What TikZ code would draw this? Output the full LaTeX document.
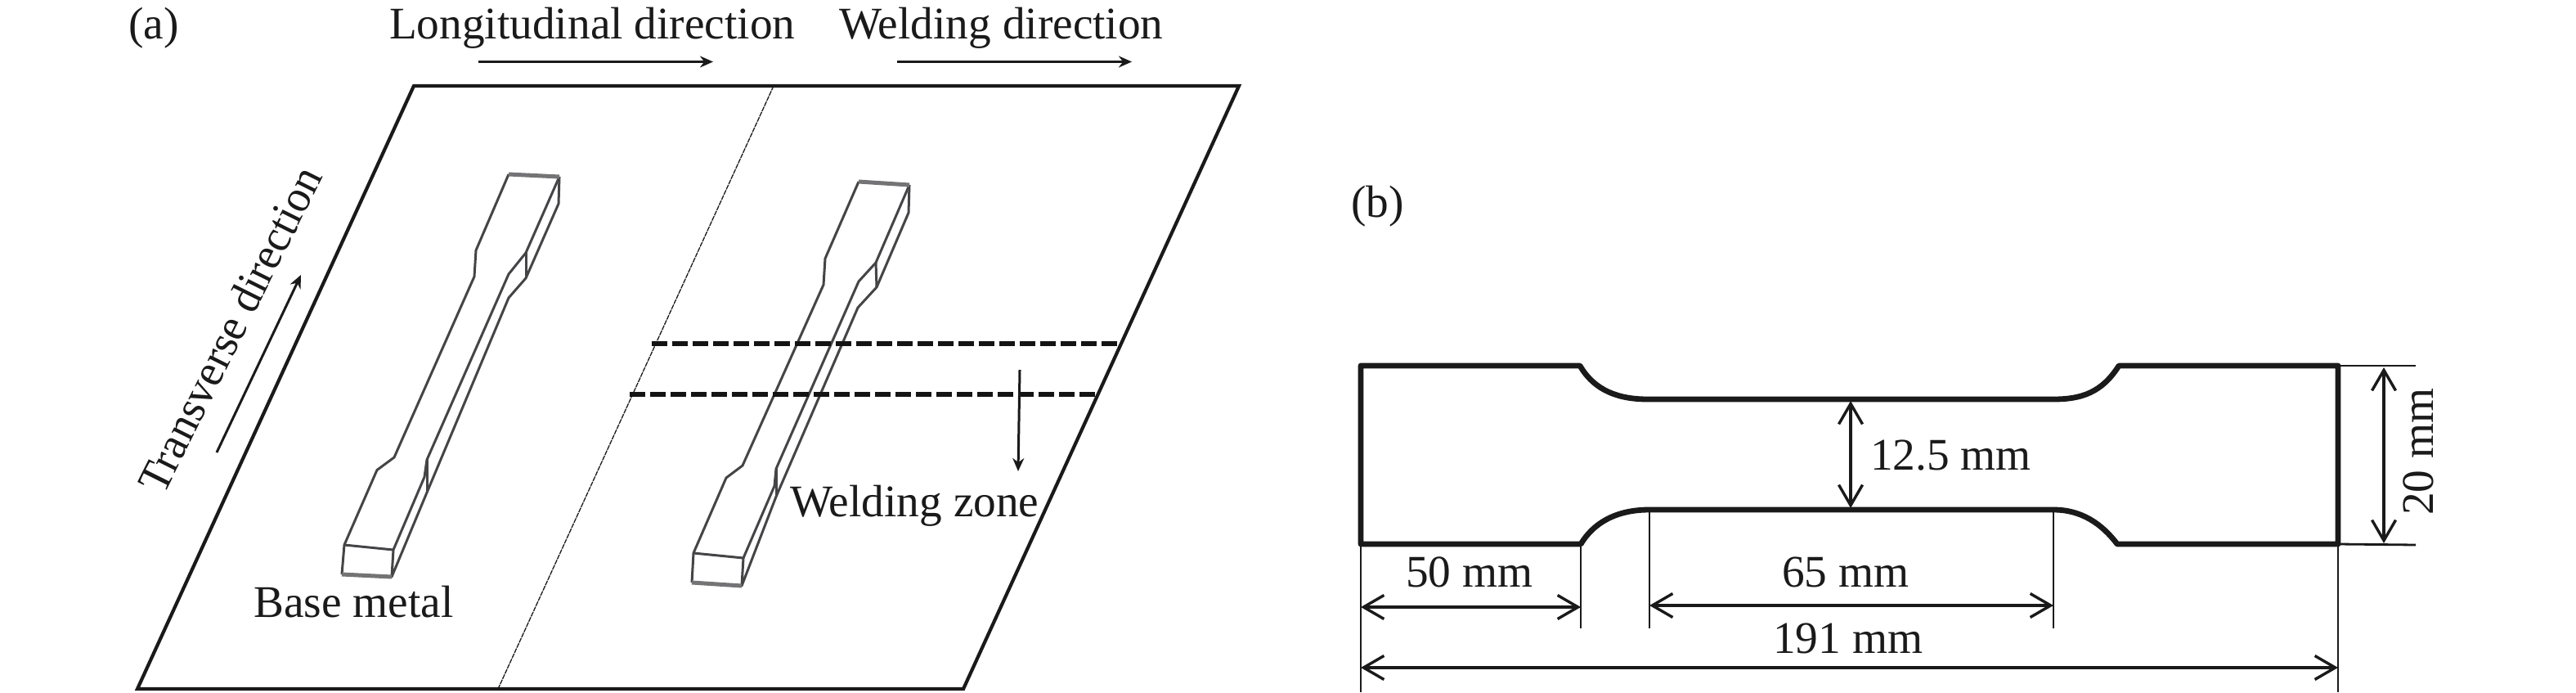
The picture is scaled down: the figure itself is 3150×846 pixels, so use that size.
\documentclass[tikz,border=0pt]{standalone}
\usepackage{fontspec}
\setmainfont{Liberation Serif}
\usetikzlibrary{arrows.meta}
\definecolor{ink}{HTML}{1A1A1A}
\definecolor{spec}{HTML}{454548}
\tikzset{
  lbl/.style={inner sep=0pt,anchor=base west,text=ink,font=\fontsize{55.3}{60}\selectfont},
  plate/.style={draw=ink,line width=4.2pt,line join=miter},
  divider/.style={draw=ink,line width=1.3pt,dash pattern=on 6pt off 1pt},
  weld/.style={draw=black!92,line width=6.2pt,dash pattern=on 19pt off 6pt},
  dirarrow/.style={draw=ink,line width=3pt,-{Stealth[length=16pt,width=14pt]}},
  specline/.style={draw=spec,line width=3pt,line join=round},
  specedge/.style={draw=spec!75,line width=5pt},
  outline/.style={draw=ink,line width=6.8pt,line join=round},
  dimline/.style={draw=ink,line width=3.6pt,{Straight Barb[length=25pt,width=29pt,line width=3.4pt]}-{Straight Barb[length=25pt,width=29pt,line width=3.4pt]}},
  extline/.style={draw=ink,line width=2.8pt}
}
\begin{document}
\begin{tikzpicture}[x=1pt,y=-1pt]
\useasboundingbox[fill=white] (0,0) rectangle (3150,846);
% plate
\coordinate (pTL) at (506,105);\coordinate (pTR) at (1515,105);
\coordinate (pBR) at (1178,842);\coordinate (pBL) at (168,842);
\coordinate (dT) at (946,105);\coordinate (dB) at (609,842);
\draw[plate] (pTL)--(pTR)--(pBR)--(pBL)--cycle;
\draw[divider] (dT)--(dB);
% specimen 1
\foreach \n/\x/\y in {a/622/213,b/684/216,c/683/249,d/582/306,e/580/338,f/482/559,g/461/574.5,h/421/666,i/418/702,j/479/705,k/481/672,m/643/309,n/622/335,o/522/562,p/519/583,q/643/340,r/622/364,s/522/602}{\coordinate (A\n) at (\x,\y);}
\draw[specline] (Aa)--(Ad)--(Ae)--(Af)--(Ag)--(Ah)--(Ai);
\draw[specline] (Ab)--(Ac)--(Aq)--(Ar)--(As)--(Aj)--(Ak)--(Ah);
\draw[specline] (Ab)--(Am)--(An)--(Ao)--(Ap)--(Ak);
\draw[specline] (Am)--(Aq);
\draw[specline] (Ao)--(As);
\draw[specedge] (Aa)--(Ab);
\draw[specedge] (Ai)--(Aj);
% specimen 2
\foreach \n/\x/\y in {a/1050/222,b/1112/226,c/1111/260,d/1009/316,e/1007/348,f/908/569,g/888/584,h/848/676,i/846/712,j/907/716,k/909/682,m/1071/321,n/1050/344,o/949/573,p/947/594,q/1072/351,r/1049/376,s/949/607}{\coordinate (B\n) at (\x,\y);}
\draw[specline] (Ba)--(Bd)--(Be)--(Bf)--(Bg)--(Bh)--(Bi);
\draw[specline] (Bb)--(Bc)--(Bq)--(Br)--(Bs)--(Bj)--(Bk)--(Bh);
\draw[specline] (Bb)--(Bm)--(Bn)--(Bo)--(Bp)--(Bk);
\draw[specline] (Bm)--(Bq);
\draw[specline] (Bo)--(Bs);
\draw[specedge] (Ba)--(Bb);
\draw[specedge] (Bi)--(Bj);
% welding zone
\coordinate (w1a) at (797,420);\coordinate (w1b) at (1371,420);
\coordinate (w2a) at (770,482);\coordinate (w2b) at (1343,482);
\draw[weld] (w1a)--(w1b);
\draw[weld] (w2a)--(w2b);
% direction arrows
\coordinate (l1) at (585,75.5);\coordinate (l2) at (872,75.5);
\coordinate (r1) at (1097,75.5);\coordinate (r2) at (1384,75.5);
\coordinate (t1) at (265,553);\coordinate (t2) at (368,336);
\coordinate (z1) at (1247,452);\coordinate (z2) at (1245,576);
\draw[dirarrow] (l1)--(l2);
\draw[dirarrow] (r1)--(r2);
\draw[dirarrow] (t1)--(t2);
\draw[dirarrow] (z1)--(z2);
% labels a
\node[lbl] (la) at (157,47) {(a)};
\node[lbl] (ll) at (476,47) {Longitudinal direction};
\node[lbl] (lw) at (1026,47) {Welding direction};
\node[lbl] (lb) at (310,754) {Base metal};
\node[lbl] (lz) at (966,631) {Welding zone};
\node[lbl,rotate=63.5] (lt) at (200,607) {\scalebox{.97}[1]{Transverse direction}};
% panel b
\node[lbl] (lbb) at (1652,265) {(b)};
\coordinate (o1) at (1664,447);\coordinate (o2) at (1932,447);
\coordinate (o3) at (2015,488);\coordinate (o4) at (2511,488);
\coordinate (o5) at (2591,447);\coordinate (o6) at (2859,447);
\coordinate (o7) at (2859,665);\coordinate (o8) at (2589,665);
\coordinate (o9) at (2511,623);\coordinate (o10) at (2017,623);
\coordinate (o11) at (1933,665);\coordinate (o12) at (1664,665);
\draw[outline] (o1)--(o2) .. controls (1950,478) and (1980,488) .. (o3)--(o4) .. controls (2545,488) and (2570,480) .. (o5)--(o6)--(o7)--(o8) .. controls (2570,640) and (2545,623) .. (o9)--(o10) .. controls (1975,623) and (1948,640) .. (o11)--(o12)--cycle;
% extension lines
\coordinate (e1) at (1664,846);\coordinate (e2) at (1933,768);
\coordinate (e3) at (2017,768);\coordinate (e4) at (2511,768);
\coordinate (e5) at (2859,846);\coordinate (e6) at (2954,447);\coordinate (e7) at (2954,666);
\draw[extline] (o12)--(e1);
\draw[extline] (o11)--(e2);
\draw[extline] (o10)--(e3);
\draw[extline] (o9)--(e4);
\draw[extline] (o7)--(e5);
\draw[extline] (o6)--(e6);
\draw[extline] (o7)--(e7);
% dimensions
\coordinate (d50a) at (1664,742);\coordinate (d50b) at (1933,742);
\coordinate (d65a) at (2017,740);\coordinate (d65b) at (2511,740);
\coordinate (d191a) at (1664,816);\coordinate (d191b) at (2859,816);
\coordinate (d12a) at (2263,490);\coordinate (d12b) at (2263,621);
\coordinate (d20a) at (2915,449);\coordinate (d20b) at (2915,664);
\draw[dimline] (d50a)--(d50b);
\draw[dimline] (d65a)--(d65b);
\draw[dimline] (d191a)--(d191b);
\draw[dimline] (d12a)--(d12b);
\draw[dimline] (d20a)--(d20b);
\node[lbl] (t12) at (2287,574) {12.5 mm};
\node[lbl] (t50) at (1719,717) {50 mm};
\node[lbl] (t65) at (2179,717) {65 mm};
\node[lbl] (t191) at (2168,798) {191 mm};
\node[lbl,rotate=90] (t20) at (2975,630) {20 mm};
\end{tikzpicture}
\end{document}
